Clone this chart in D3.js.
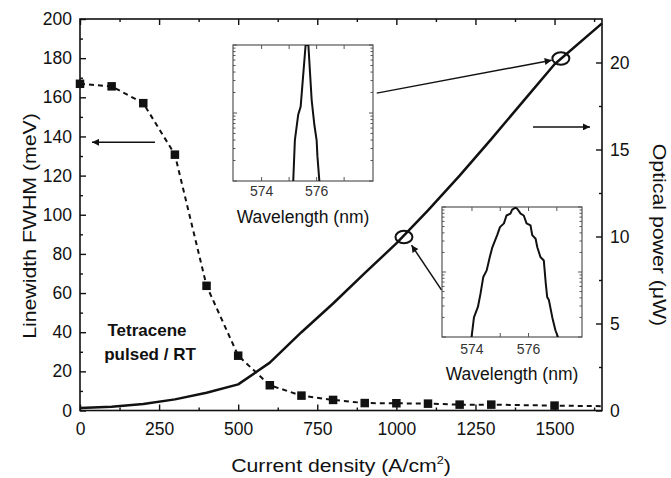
<!DOCTYPE html>
<html><head><meta charset="utf-8">
<script src="https://cdn.jsdelivr.net/npm/d3@7"></script>
<style>body{margin:0;background:#fff}text{font-family:"Liberation Sans",Arial,sans-serif;fill:#111}</style>
</head><body>
<script>
// ---------- data ----------
const fwhmX = [0,100,200,300,400,500,600,700,800,900,1000,1100,1200,1300,1500];
const fwhmY = [166.9,165.6,157,130.7,63.7,28,12.9,7.6,5.4,3.8,3.7,3.5,3.0,3.0,2.5];
const fwhmTail = [1650, 2.2];
const powerX = [0,100,200,300,400,500,600,700,800,900,1000,1100,1200,1300,1400,1500,1650];
const powerY = [0.15,0.22,0.37,0.64,1.02,1.5,2.75,4.5,6.15,7.9,9.6,11.5,13.5,15.6,17.75,19.9,22.25];
const xMajor = [0,250,500,750,1000,1250,1500];
const xMinor = [125,375,625,875,1125,1375,1625];
const yLMajor = [0,20,40,60,80,100,120,140,160,180,200];
const yLMinor = [10,30,50,70,90,110,130,150,170,190];
const yRMajor = [0,5,10,15,20];
const yRMinor = [2.5,7.5,12.5,17.5];
// inset spectra (wavelength nm, intensity arb. log)
const spec1Wl = [575.15,575.21,575.33,575.42,575.60,575.70,575.82,575.92,576.00,576.03,576.10];
const spec1I  = [1.0,4.0,9.4,12.4,100,100,15.5,6.6,4.0,2.3,1.0];
const spec2Wl = [573.985,574.07,574.21,574.30,574.40,574.52,574.63,574.72,574.89,574.99,575.13,575.22,575.36,575.42,575.54,575.60,575.72,575.83,575.93,576.07,576.13,576.25,576.31,576.42,576.54,576.61,576.66,576.72,576.84,576.95,577.04];
const spec2I  = [1.0,2.0,2.9,4.6,8.4,10.6,17,24,37,49,56,74,79,91,98,94,79,74,56,52,37,32.5,24,17,15,6.6,4.1,3.7,2.0,1.27,1.0];
const insetXTicks = [574,575,576,577];
const insetXLabels = [574,576];
// annotations (data coordinates)
const circles = [[1024, 9.97], [1520, 20.23]];
const arrowLeft = [[237,137],[38,137]];          // x, FWHM
const arrowRight = [[1432,16.3],[1612,16.3]];   // x, power
const arrowInset1 = [[938,18.24],[1491,20.13]]; // x, power
const arrowInset2 = [[1143,6.92],[1048,9.5]];   // x, power

// ---------- layout ----------
const W=671,H=478, L=80, R=602, T=19, B=410.5;
const svg = d3.select("body").append("svg").attr("width",W).attr("height",H);
const defs = svg.append("defs");
defs.append("marker").attr("id","ah").attr("viewBox","0 0 10 10").attr("refX",10).attr("refY",5)
  .attr("markerWidth",10).attr("markerHeight",7).attr("markerUnits","userSpaceOnUse").attr("orient","auto")
  .append("path").attr("d","M0,0L10,5L0,10z").attr("fill","#111");

const x = d3.scaleLinear([0,1650],[L,R]);
const yL = d3.scaleLinear([0,200],[B,T]);
const yR = d3.scaleLinear([0,22.5],[B,T]);

function styleAxis(g, fs){
  g.select(".domain").remove();
  g.selectAll(".tick line").attr("stroke","#111").attr("stroke-width",1.4);
  g.selectAll("text").style("font-size",fs).attr("fill","#111");
}
const fs = "17.5px";
svg.append("g").attr("transform",`translate(0,${B})`)
  .call(d3.axisBottom(x).tickValues(xMajor).tickSize(-6).tickPadding(12).tickFormat(d3.format("d"))).call(g=>styleAxis(g,fs));
svg.append("g").attr("transform",`translate(0,${B})`)
  .call(d3.axisBottom(x).tickValues(xMinor).tickSize(-3).tickFormat("")).call(g=>styleAxis(g,fs));
svg.append("g").attr("transform",`translate(0,${T})`)
  .call(d3.axisTop(x).tickValues(xMajor).tickSize(-6).tickFormat("")).call(g=>styleAxis(g,fs));
svg.append("g").attr("transform",`translate(0,${T})`)
  .call(d3.axisTop(x).tickValues(xMinor).tickSize(-3).tickFormat("")).call(g=>styleAxis(g,fs));
svg.append("g").attr("transform",`translate(${L},0)`)
  .call(d3.axisLeft(yL).tickValues(yLMajor).tickSize(-6).tickPadding(8).tickFormat(d3.format("d"))).call(g=>styleAxis(g,fs));
svg.append("g").attr("transform",`translate(${L},0)`)
  .call(d3.axisLeft(yL).tickValues(yLMinor).tickSize(-3).tickFormat("")).call(g=>styleAxis(g,fs));
svg.append("g").attr("transform",`translate(${R},0)`)
  .call(d3.axisRight(yR).tickValues(yRMajor).tickSize(-6).tickPadding(8).tickFormat(d3.format("d"))).call(g=>styleAxis(g,fs));
svg.append("g").attr("transform",`translate(${R},0)`)
  .call(d3.axisRight(yR).tickValues(yRMinor).tickSize(-3).tickFormat("")).call(g=>styleAxis(g,fs));

svg.append("rect").attr("x",L).attr("y",T).attr("width",R-L).attr("height",B-T)
  .attr("fill","none").attr("stroke","#111").attr("stroke-width",1.6);

// axis titles
svg.append("text").attr("transform","translate(36,226) rotate(-90) scale(1.15,1)")
  .attr("text-anchor","middle").style("font-size","18.5px").text("Linewidth FWHM (meV)");
svg.append("text").attr("transform","translate(653,235) rotate(90) scale(1.15,1)")
  .attr("text-anchor","middle").style("font-size","18.5px").text("Optical power (\u03BCW)");
const xt = svg.append("text").attr("transform","translate(341,472) scale(1.15,1)")
  .attr("text-anchor","middle").style("font-size","18.5px");
xt.append("tspan").text("Current density (A/cm");
xt.append("tspan").attr("dy",-8).style("font-size","11px").text("2");
xt.append("tspan").attr("dy",8).text(")");

// FWHM dashed curve + squares
const fwhmPts = fwhmX.map((v,i)=>[v,fwhmY[i]]);
svg.append("path").datum(fwhmPts.concat([fwhmTail]))
  .attr("d", d3.line().x(d=>x(d[0])).y(d=>yL(d[1])).curve(d3.curveLinear))
  .attr("fill","none").attr("stroke","#111").attr("stroke-width",2).attr("stroke-dasharray","5,4")
  .attr("stroke-linejoin","round");
svg.append("g").selectAll("rect").data(fwhmPts).join("rect")
  .attr("x",d=>x(d[0])-4.25).attr("y",d=>yL(d[1])-4.25).attr("width",8.5).attr("height",8.5).attr("fill","#111");

// Power line
const powPts = powerX.map((v,i)=>[v,powerY[i]]);
svg.append("path").datum(powPts)
  .attr("d", d3.line().x(d=>x(d[0])).y(d=>yR(d[1])))
  .attr("fill","none").attr("stroke","#111").attr("stroke-width",2.5).attr("stroke-linejoin","round");

// circles
svg.append("g").selectAll("ellipse").data(circles).join("ellipse")
  .attr("cx",d=>x(d[0])).attr("cy",d=>yR(d[1])).attr("rx",8.5).attr("ry",6.2)
  .attr("fill","none").attr("stroke","#111").attr("stroke-width",2);

// arrows
function arrow(pts, ys){
  svg.append("line").attr("x1",x(pts[0][0])).attr("y1",ys(pts[0][1]))
    .attr("x2",x(pts[1][0])).attr("y2",ys(pts[1][1]))
    .attr("stroke","#111").attr("stroke-width",1.5).attr("marker-end","url(#ah)");
}
arrow(arrowLeft, yL); arrow(arrowRight, yR); arrow(arrowInset1, yR); arrow(arrowInset2, yR);

// label
svg.append("text").attr("x",147).attr("y",336).attr("text-anchor","middle")
  .style("font-size","17px").style("font-weight","bold").text("Tetracene");
svg.append("text").attr("x",150).attr("y",360).attr("text-anchor","middle")
  .style("font-size","17px").style("font-weight","bold").text("pulsed / RT");

// insets
function inset(id, box, dom, wl, inten, lblOff, titleY){
  const g = svg.append("g");
  const xs = d3.scaleLinear(dom,[box.x0,box.x1]);
  const ys = d3.scaleLog([1,100],[box.y1,box.y0]);
  defs.append("clipPath").attr("id",id).append("rect")
    .attr("x",box.x0).attr("y",box.y0).attr("width",box.x1-box.x0).attr("height",box.y1-box.y0);
  const logTicks = [];
  [1,10].forEach(d=>{for(let k=1;k<10;k++) logTicks.push(d*k);}); logTicks.push(100);
  const tk = "#555";
  g.append("g").selectAll("line").data(insetXTicks).join("line")
    .attr("x1",d=>xs(d)).attr("x2",d=>xs(d)).attr("y1",box.y1).attr("y2",box.y1-4).attr("stroke",tk);
  g.append("g").selectAll("line").data(insetXTicks).join("line")
    .attr("x1",d=>xs(d)).attr("x2",d=>xs(d)).attr("y1",box.y0).attr("y2",box.y0+4).attr("stroke",tk);
  const isMaj = d=>[1,10,100].includes(d);
  [[box.x0,1],[box.x1,-1]].forEach(([xx,s])=>{
    g.append("g").selectAll("line").data(logTicks).join("line")
      .attr("x1",xx).attr("x2",d=>xx+s*(isMaj(d)?4:2.5)).attr("y1",d=>ys(d)).attr("y2",d=>ys(d)).attr("stroke",tk);
  });
  g.append("rect").attr("x",box.x0).attr("y",box.y0).attr("width",box.x1-box.x0).attr("height",box.y1-box.y0)
    .attr("fill","none").attr("stroke","#555").attr("stroke-width",1.2);
  g.append("path").datum(wl.map((v,i)=>[v,inten[i]])).attr("clip-path",`url(#${id})`)
    .attr("d", d3.line().x(d=>xs(d[0])).y(d=>ys(d[1])))
    .attr("fill","none").attr("stroke","#111").attr("stroke-width",2).attr("stroke-linejoin","round");
  g.append("g").selectAll("text").data(insetXLabels).join("text")
    .attr("x",d=>xs(d)).attr("y",box.y1+lblOff).attr("text-anchor","middle").style("font-size","14px").style("fill","#333").text(d=>d);
  g.append("text").attr("x",(box.x0+box.x1)/2).attr("y",titleY).attr("text-anchor","middle")
    .style("font-size","17.5px").text("Wavelength (nm)");
}
inset("c1",{x0:233,x1:373,y0:45,y1:181},[572.96,578.05],spec1Wl,spec1I,15,222.5);
inset("c2",{x0:442,x1:582,y0:207,y1:337},[572.94,577.89],spec2Wl,spec2I,17,380);
</script>
</body></html>
